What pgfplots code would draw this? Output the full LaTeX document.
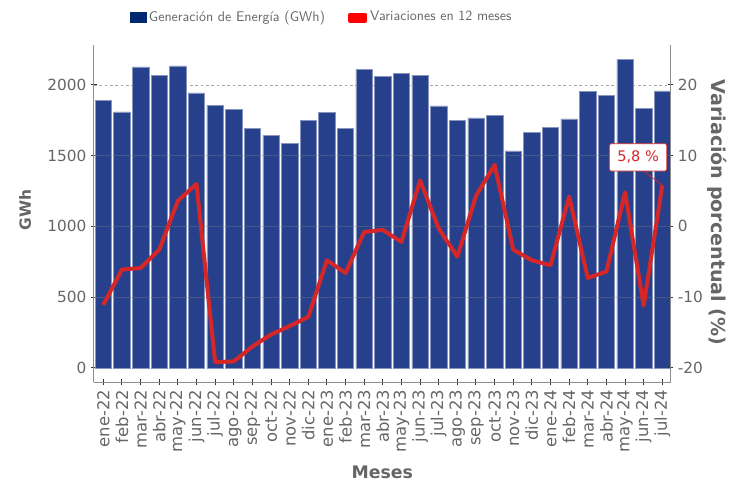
\documentclass[border=0pt]{standalone}
\usepackage{pgfplots}
\pgfplotsset{compat=1.18}
\usepackage{fontspec}
\setmainfont{DejaVu Sans}

\definecolor{barblue}{RGB}{38,64,139}
\definecolor{legnavy}{RGB}{0,40,110}
\definecolor{linered}{RGB}{214,39,40}
\definecolor{txtgray}{RGB}{102,102,102}
\definecolor{axgray}{RGB}{140,140,140}
\definecolor{tickdark}{RGB}{50,50,50}

\pgfplotsset{
  common/.style={
    at={(0,0)}, anchor=south west,
    scale only axis, width=432.5pt, height=253.2pt,
    xmin=-0.5, xmax=30.45,
    tick align=outside,
    major tick length=3.8pt,
    tick style={draw=tickdark, line width=0.75pt},
    /pgf/number format/assume math mode=true,
    /pgf/number format/1000 sep={},
    y tick label style={font=\fontsize{11.5}{12}\selectfont, text=txtgray},
    clip=false,
  },
  nolinearrows/.style={
    axis line style={-, draw=axgray, line width=0.75pt},
    x axis line style={-}, y axis line style={-},
    every outer x axis line/.append style={-},
    every outer y axis line/.append style={-},
    every inner x axis line/.append style={-},
    every inner y axis line/.append style={-},
  },
}

\begin{document}
\begin{tikzpicture}
\path[use as bounding box] (-70.5pt,-75.5pt) rectangle (491.25pt,286.75pt);

% barras: generacion (GWh)
\begin{axis}[common,
  axis x line=bottom, axis y line=left, nolinearrows,
  ymin=-103, ymax=2284,
  ytick={0,500,1000,1500,2000},
  extra y ticks={2000}, extra y tick labels={},
  extra y tick style={ymajorgrids=true, major tick length=0pt,
    major grid style={draw=gray!70, line width=0.6pt, dash pattern=on 2pt off 2pt}},
  xtick={0,...,30},
  xticklabels={ene-22,feb-22,mar-22,abr-22,may-22,jun-22,jul-22,ago-22,sep-22,oct-22,nov-22,dic-22,
    ene-23,feb-23,mar-23,abr-23,may-23,jun-23,jul-23,ago-23,sep-23,oct-23,nov-23,dic-23,
    ene-24,feb-24,mar-24,abr-24,may-24,jun-24,jul-24},
  x tick label style={rotate=90, anchor=east, font=\fontsize{12.3}{13}\selectfont, text=txtgray},
  major tick length=4.5pt,
  xlabel={Meses},
  xlabel style={at={(axis description cs:0.5,-0.265)}, anchor=center,
    font=\bfseries\fontsize{13}{14}\selectfont, text=txtgray},
  ylabel={GWh},
  ylabel style={at={(axis description cs:-0.1196,0.51)}, anchor=center,
    font=\bfseries\fontsize{11.6}{13}\selectfont, text=txtgray},
]
\addplot[ybar, bar width=0.88, bar shift=0pt, fill=barblue, draw=barblue!55!white, line width=0.4pt]
coordinates {
  (0,1893) (1,1809) (2,2127) (3,2070) (4,2134) (5,1943) (6,1856) (7,1827)
  (8,1695) (9,1643) (10,1587) (11,1747) (12,1803) (13,1690) (14,2108) (15,2058)
  (16,2082) (17,2068) (18,1851) (19,1750) (20,1766) (21,1782) (22,1533) (23,1662)
  (24,1702) (25,1759) (26,1952) (27,1924) (28,2181) (29,1834) (30,1957)
};
\end{axis}

% linea: variacion en 12 meses (%)
\begin{axis}[common,
  axis y line=right, axis x line=none, nolinearrows,
  ymin=-22.06, ymax=25.68,
  ytick={-20,-10,0,10,20},
  yticklabel pos=right,
  extra y ticks={-10,0,10}, extra y tick labels={},
  extra y tick style={ymajorgrids=true, major tick length=0pt,
    major grid style={draw=gray, opacity=0.35, line width=0.8pt}},
  ylabel={Variación porcentual (\%)},
  ylabel style={at={(axis description cs:1.080,0.503)}, anchor=center, rotate=180,
    font=\bfseries\fontsize{14.3}{16}\selectfont, text=txtgray},
  legend style={at={(axis description cs:0.062,1.082)}, anchor=west,
    draw=none, fill=none, inner sep=0pt,
    font=\sffamily\fontsize{10.5}{12}\selectfont, text=txtgray,
    /tikz/every even column/.append style={column sep=15pt}},
  legend columns=2,
]
\addlegendimage{legend image code/.code={\fill[legnavy] (0pt,-3.75pt) rectangle (11.8pt,3.75pt);}}
\addlegendentry{Generación de Energía (GWh)}
\addplot[linered, line width=3pt, line join=round,
  legend image code/.code={\fill[red] (0pt,-2.6pt) rectangle (11.8pt,1.2pt);}]
coordinates {
  (0,-11.1) (1,-6.1) (2,-5.9) (3,-3.3) (4,3.6) (5,6.0) (6,-19.2) (7,-19.1)
  (8,-17.0) (9,-15.3) (10,-14.1) (11,-12.8) (12,-4.8) (13,-6.6) (14,-0.8) (15,-0.5)
  (16,-2.2) (17,6.5) (18,-0.3) (19,-4.3) (20,4.3) (21,8.7) (22,-3.3) (23,-4.8)
  (24,-5.5) (25,4.2) (26,-7.3) (27,-6.4) (28,4.8) (29,-11.2) (30,5.8)
};
\addlegendentry{Variaciones en 12 meses}
\node[draw=linered, fill=white, text=linered, rounded corners=1.5pt, line width=0.6pt,
  inner xsep=6pt, inner ysep=5.6pt, font=\fontsize{10.9}{12}\selectfont]
  (lbl) at (axis cs:28.70,9.75) {5,8 \%};
\draw[linered, line width=0.6pt] ([xshift=4.6pt]lbl.south) -- (axis cs:30,5.8);
\end{axis}
\end{tikzpicture}
\end{document}
